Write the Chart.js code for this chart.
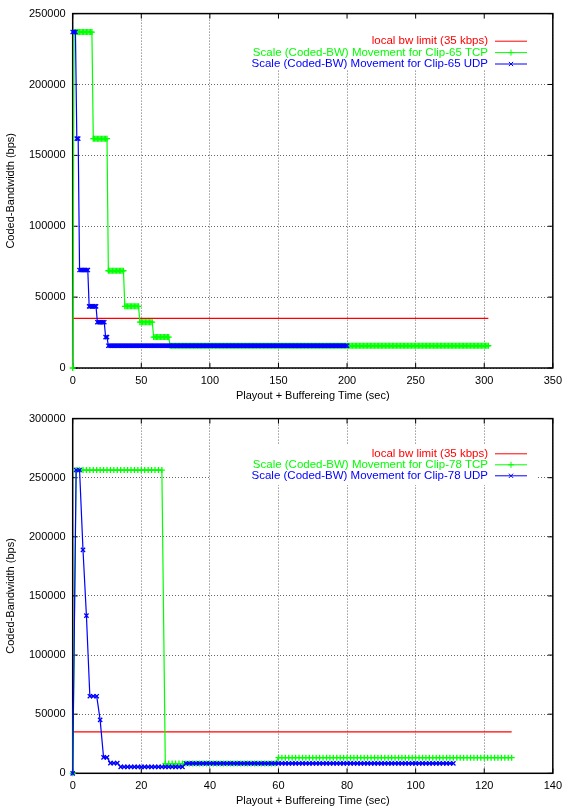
<!DOCTYPE html>
<html>
<head>
<meta charset="utf-8">
<script src="https://cdn.jsdelivr.net/npm/chart.js@4.4.1/dist/chart.umd.min.js"></script>
<style>
  html, body { margin: 0; padding: 0; background: #fff; }
  #wrap { position: relative; width: 568px; height: 812px; }
  canvas { position: absolute; left: 0; }
  #chart65 { top: 0; }
  #chart78 { top: 405px; }
</style>
</head>
<body>
<div id="wrap">
  <canvas id="chart65" width="568" height="405"></canvas>
  <canvas id="chart78" width="568" height="407"></canvas>
</div>
<script>
// Clip-65 -- every run is one coded rate, sampled once a second from runStart to runEnd
const clip65TcpRunStart = [0, 1, 15, 26, 38, 49, 59, 71];
const clip65TcpRunEnd = [0, 14, 25, 37, 48, 58, 70, 303];
const clip65TcpLevel = [0, 237000, 161800, 68600, 43500, 32300, 21800, 15700];

const clip65UdpRunStart = [0, 3, 5, 12, 18, 24, 26];
const clip65UdpRunEnd = [2, 4, 11, 17, 23, 25, 200];
const clip65UdpLevel = [237000, 161800, 69100, 43500, 32300, 21800, 15700];

const clip65LimitTime = [0, 303];
const clip65LimitLevel = [35000, 35000];

const clip65XTicks = [0, 50, 100, 150, 200, 250, 300, 350];
const clip65YTicks = [0, 50000, 100000, 150000, 200000, 250000];

// Clip-78
const clip78TcpRunStart = [0, 1, 27, 60];
const clip78TcpRunEnd = [0, 26, 59, 128];
const clip78TcpLevel = [0, 256500, 8200, 13200];

const clip78UdpRunStart = [0, 1, 3, 4, 5, 8, 9, 11, 14, 33];
const clip78UdpRunEnd = [0, 2, 3, 4, 7, 8, 10, 13, 32, 111];
const clip78UdpLevel = [0, 256500, 189000, 133400, 65200, 45200, 13500, 8600, 5500, 8400];

const clip78LimitTime = [0, 128];
const clip78LimitLevel = [35000, 35000];

const clip78XTicks = [0, 20, 40, 60, 80, 100, 120, 140];
const clip78YTicks = [0, 50000, 100000, 150000, 200000, 250000, 300000];

const FONT = 'Liberation Sans, Arial, Helvetica, sans-serif';

function runsToPoints(starts, ends, levels) {
  const pts = [];
  starts.forEach((s, i) => {
    for (let t = s; t <= ends[i]; t++) pts.push({ x: t, y: levels[i] });
  });
  return pts;
}

function pairsToPoints(xs, ys) {
  return xs.map((x, i) => ({ x, y: ys[i] }));
}

// gnuplot-ish frame: opaque key box, border, inward mirrored ticks, key entries
const gnuFrame = {
  id: 'gnuFrame',
  beforeDatasetsDraw(chart, args, opts) {
    const { ctx, chartArea: a, scales } = chart;
    ctx.save();
    // key box hides the grid behind it
    const b = opts.keyBox;
    ctx.fillStyle = '#fff';
    ctx.fillRect(b[0], b[1], b[2] - b[0], b[3] - b[1]);
    // border
    ctx.strokeStyle = '#000';
    ctx.lineWidth = 1.5;
    ctx.strokeRect(a.left, a.top, a.right - a.left, a.bottom - a.top);
    // inward ticks on all four sides
    ctx.lineWidth = 1;
    ctx.beginPath();
    scales.x.ticks.forEach((t) => {
      const px = scales.x.getPixelForValue(t.value);
      ctx.moveTo(px, a.bottom); ctx.lineTo(px, a.bottom - 5);
      ctx.moveTo(px, a.top); ctx.lineTo(px, a.top + 5);
    });
    scales.y.ticks.forEach((t) => {
      const py = scales.y.getPixelForValue(t.value);
      ctx.moveTo(a.left, py); ctx.lineTo(a.left + 5, py);
      ctx.moveTo(a.right, py); ctx.lineTo(a.right - 5, py);
    });
    ctx.stroke();
    ctx.restore();
  },
  afterDatasetsDraw(chart, args, opts) {
    const { ctx } = chart;
    ctx.save();
    ctx.font = '11.5px ' + FONT;
    ctx.textAlign = 'right';
    ctx.textBaseline = 'middle';
    chart.data.datasets.forEach((ds, i) => {
      const y = opts.rowY[i];
      ctx.fillStyle = ds.borderColor;
      ctx.fillText(ds.label, opts.textRight, y);
      ctx.strokeStyle = ds.borderColor;
      ctx.lineWidth = 1;
      ctx.beginPath();
      ctx.moveTo(opts.sampleFrom, y);
      ctx.lineTo(opts.sampleTo, y);
      ctx.stroke();
      if (ds.pointRadius > 0) {
        Chart.helpers.drawPoint(ctx, {
          pointStyle: ds.pointStyle,
          radius: ds.pointRadius,
          rotation: 0,
          borderWidth: 1.2,
        }, (opts.sampleFrom + opts.sampleTo) / 2, y);
      }
    });
    ctx.restore();
  },
};

function makeChart(canvasId, cfg) {
  const canvas = document.getElementById(canvasId);
  const tickFont = { family: FONT, size: 11 };
  const gridStyle = {
    color: 'rgba(0,0,0,0.6)',
    drawTicks: false,
    lineWidth: 1,
  };
  return new Chart(canvas, {
    type: 'scatter',
    data: {
      datasets: [
        {
          label: 'local bw limit (35 kbps)',
          data: cfg.limit,
          borderColor: '#ff0000',
          backgroundColor: '#ff0000',
          showLine: true,
          pointRadius: 0,
          borderWidth: 1.2,
          order: 3,
          clip: false,
        },
        {
          label: cfg.tcpLabel,
          data: cfg.tcp,
          borderColor: '#00ff00',
          backgroundColor: '#00ff00',
          showLine: true,
          pointStyle: 'cross',
          pointRadius: 3,
          pointBorderWidth: 1.3,
          borderWidth: 1.2,
          order: 2,
          clip: false,
        },
        {
          label: cfg.udpLabel,
          data: cfg.udp,
          borderColor: '#0000ff',
          backgroundColor: '#0000ff',
          showLine: true,
          pointStyle: 'crossRot',
          pointRadius: 3,
          pointBorderWidth: 1.3,
          borderWidth: 1.2,
          order: 1,
          clip: false,
        },
      ],
    },
    options: {
      responsive: false,
      animation: false,
      devicePixelRatio: 1,
      layout: { padding: { top: 12, right: 9.5, left: 0, bottom: 0 } },
      scales: {
        x: {
          type: 'linear',
          min: cfg.xTicks[0],
          max: cfg.xTicks[cfg.xTicks.length - 1],
          afterBuildTicks: (s) => { s.ticks = cfg.xTicks.map((v) => ({ value: v })); },
          afterFit: (s) => { s.height = cfg.xAxisHeight; },
          border: { display: false, dash: [1, 2] },
          grid: gridStyle,
          ticks: { color: '#000', font: tickFont, padding: 6, maxRotation: 0, callback: (v) => String(v) },
          title: {
            display: true,
            text: 'Playout + Buffereing Time (sec)',
            color: '#000',
            font: tickFont,
            padding: { top: 0, bottom: cfg.titlePad },
          },
        },
        y: {
          type: 'linear',
          min: cfg.yTicks[0],
          max: cfg.yTicks[cfg.yTicks.length - 1],
          afterBuildTicks: (s) => { s.ticks = cfg.yTicks.map((v) => ({ value: v })); },
          afterFit: (s) => { s.width = 72.7; },
          border: { display: false, dash: [1, 2] },
          grid: gridStyle,
          ticks: { color: '#000', font: tickFont, padding: 7, callback: (v) => String(v) },
          title: {
            display: true,
            text: 'Coded-Bandwidth (bps)',
            color: '#000',
            font: tickFont,
            padding: { top: 4, bottom: 0 },
          },
        },
      },
      plugins: {
        legend: { display: false },
        tooltip: { enabled: false },
        gnuFrame: cfg.key,
      },
    },
    plugins: [gnuFrame],
  });
}

makeChart('chart65', {
  tcp: runsToPoints(clip65TcpRunStart, clip65TcpRunEnd, clip65TcpLevel),
  udp: runsToPoints(clip65UdpRunStart, clip65UdpRunEnd, clip65UdpLevel),
  limit: pairsToPoints(clip65LimitTime, clip65LimitLevel),
  tcpLabel: 'Scale (Coded-BW) Movement for Clip-65 TCP',
  udpLabel: 'Scale (Coded-BW) Movement for Clip-65 UDP',
  xTicks: clip65XTicks,
  yTicks: clip65YTicks,
  xAxisHeight: 37,
  titlePad: 2,
  key: {
    rowY: [41.2, 52.6, 64],
    textRight: 488,
    sampleFrom: 495,
    sampleTo: 527,
    keyBox: [210, 12.5, 536, 69],
  },
});

makeChart('chart78', {
  tcp: runsToPoints(clip78TcpRunStart, clip78TcpRunEnd, clip78TcpLevel),
  udp: runsToPoints(clip78UdpRunStart, clip78UdpRunEnd, clip78UdpLevel),
  limit: pairsToPoints(clip78LimitTime, clip78LimitLevel),
  tcpLabel: 'Scale (Coded-BW) Movement for Clip-78 TCP',
  udpLabel: 'Scale (Coded-BW) Movement for Clip-78 UDP',
  xTicks: clip78XTicks,
  yTicks: clip78YTicks,
  xAxisHeight: 38.7,
  titlePad: 4,
  key: {
    rowY: [48.8, 59.8, 70.8],
    textRight: 488,
    sampleFrom: 495,
    sampleTo: 527,
    keyBox: [210, 40, 536, 80],
  },
});
</script>
</body>
</html>
